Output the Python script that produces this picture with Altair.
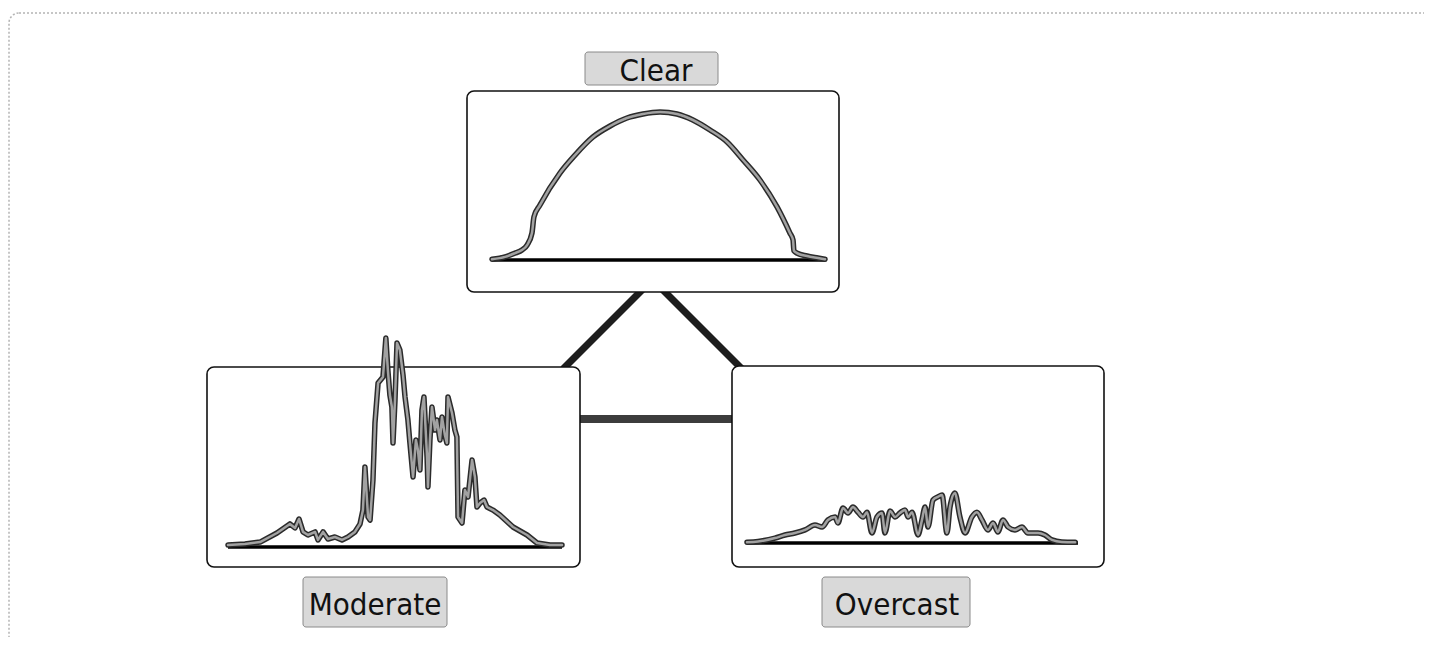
import altair as alt
import pandas as pd

# ------------------------------------------------------------------
# Data: solar irradiance (W/m²) over the day (hour) for three sky types
# ------------------------------------------------------------------
panel_names = ["Clear", "Moderate", "Overcast"]

clear_hours = [4.50, 5.09, 5.54, 5.85, 6.08, 6.30, 6.39, 6.66, 7.56, 8.24, 9.05, 9.82,
               10.58, 11.30, 12.07, 12.83, 13.55, 14.32, 15.09, 15.81, 16.57, 17.34,
               17.92, 18.06, 18.10, 18.24, 18.69, 19.18, 19.50]
clear_wm2 = [5, 20, 45, 65, 97, 175, 280, 357, 565, 682, 800, 871,
             923, 949, 962, 949, 910, 845, 767, 650, 520, 345,
             175, 130, 60, 45, 26, 13, 5]

moderate_hours = [4.50, 5.26, 5.94, 6.70, 7.28, 7.51, 7.69, 7.87, 8.09, 8.41, 8.54, 8.77,
                  8.99, 9.30, 9.62, 9.89, 10.20, 10.43, 10.56, 10.65, 10.79, 10.88,
                  11.01, 11.10, 11.24, 11.46, 11.59, 11.68, 11.77, 11.86, 11.91, 12.00,
                  12.09, 12.22, 12.36, 12.45, 12.58, 12.67, 12.81, 12.94, 13.03, 13.12,
                  13.21, 13.30, 13.44, 13.48, 13.57, 13.66, 13.80, 13.88, 14.02, 14.11,
                  14.24, 14.33, 14.38, 14.56, 14.69, 14.78, 14.83, 15.01, 15.14, 15.28,
                  15.46, 15.59, 15.68, 15.82, 16.00, 16.13, 16.40, 16.71, 17.30, 17.93,
                  18.38, 18.96, 19.50]
moderate_wm2 = [13, 20, 32, 91, 150, 124, 182, 98, 78, 98, 46, 98,
                52, 65, 46, 65, 98, 150, 240, 520, 195, 175,
                435, 806, 1066, 1105, 1358, 1150, 988, 910, 676, 955,
                1326, 1280, 1118, 975, 826, 676, 455, 696, 630, 500,
                890, 975, 585, 390, 696, 910, 760, 826, 696, 845,
                728, 676, 975, 871, 760, 715, 195, 156, 370, 325,
                565, 455, 260, 286, 305, 260, 240, 208, 130, 78,
                26, 13, 13]

overcast_hours = [4.50, 5.00, 5.77, 6.22, 6.67, 7.13, 7.58, 7.90, 8.17, 8.49, 8.62, 8.85,
                  9.08, 9.30, 9.53, 9.76, 9.94, 10.16, 10.39, 10.62, 10.75, 10.98,
                  11.21, 11.43, 11.66, 11.80, 11.98, 12.25, 12.43, 12.57, 12.70, 12.93,
                  13.15, 13.34, 13.56, 13.70, 13.92, 14.15, 14.38, 14.69, 14.92, 15.15,
                  15.42, 15.65, 15.87, 16.10, 16.33, 16.64, 16.96, 17.23, 17.69, 18.00,
                  18.32, 18.77, 19.37]
overcast_wm2 = [5, 10, 32, 52, 65, 85, 117, 104, 150, 169, 130, 228,
                195, 234, 200, 169, 200, 65, 169, 195, 65, 208,
                169, 195, 215, 169, 200, 52, 150, 234, 104, 280,
                300, 312, 65, 234, 325, 169, 65, 169, 200, 150,
                85, 130, 72, 150, 104, 85, 104, 65, 65, 52,
                20, 7, 5]

# ------------------------------------------------------------------
# Layout (chart pixel coordinates) and styles
# ------------------------------------------------------------------
W, H = 1416, 629
HOUR_DOMAIN = [4.5, 19.5]
VAL_DOMAIN = [0, 1300]
VAL_PX = 200  # pixel height spanned by VAL_DOMAIN
FONT = "DejaVu Sans Condensed, Liberation Sans Narrow, Liberation Sans, sans-serif"

layout = {
    "Clear":    dict(box=(459, 83, 831, 284), xr=(484, 817), base=252,
                     lbox=(577, 44, 710, 77), lxy=(648, 73), interp="monotone"),
    "Moderate": dict(box=(199, 359, 572, 559), xr=(220, 554), base=539,
                     lbox=(295, 569, 439, 619), lxy=(367, 607), interp="linear"),
    "Overcast": dict(box=(724, 358, 1096, 559), xr=(739, 1070), base=535,
                     lbox=(814, 569, 962, 619), lxy=(889, 607), interp="monotone"),
}
series = {
    "Clear": (clear_hours, clear_wm2),
    "Moderate": (moderate_hours, moderate_wm2),
    "Overcast": (overcast_hours, overcast_wm2),
}

one = pd.DataFrame({"_": [0]})


def rect(x, y, x2, y2, **kw):
    return alt.Chart(one).mark_rect(**kw).encode(
        x=alt.value(x), y=alt.value(y), x2=alt.value(x2), y2=alt.value(y2))


def rule(x, y, x2, y2, **kw):
    return alt.Chart(one).mark_rule(**kw).encode(
        x=alt.value(x), y=alt.value(y), x2=alt.value(x2), y2=alt.value(y2))


layers = []

# outer faint rounded frame
layers.append(rect(1, 5, 1460, 640, fillOpacity=0, stroke="#b4b4b4", strokeWidth=1.5,
                   strokeDash=[2, 2], cornerRadius=10))

# connectors of the triangle
layers.append(rule(636, 280, 555, 361, color="#1e1e1e", strokeWidth=7))
layers.append(rule(653, 280, 734, 361, color="#1e1e1e", strokeWidth=7))
layers.append(rule(568, 411, 728, 411, color="#3c3c3c", strokeWidth=8))

# panel boxes and labels
for name in panel_names:
    L = layout[name]
    bx, by, bx2, by2 = L["box"]
    layers.append(rect(bx, by, bx2, by2, fill="white", stroke="#111", strokeWidth=1.6,
                       cornerRadius=7))
    lx, ly, lx2, ly2 = L["lbox"]
    layers.append(rect(lx, ly, lx2, ly2, fill="#d9d9d9", stroke="#8a8a8a", strokeWidth=1,
                       cornerRadius=3))
    tx, ty = L["lxy"]
    layers.append(
        alt.Chart(pd.DataFrame({"label": [name]})).mark_text(
            font=FONT, fontSize=31, align="center", baseline="alphabetic", color="#111"
        ).encode(text="label:N", x=alt.value(tx), y=alt.value(ty))
    )

# data series drawn through per-panel scales
for name in panel_names:
    L = layout[name]
    hours, vals = series[name]
    df = pd.DataFrame({"hour": hours, "wm2": vals})
    base_df = pd.DataFrame({"hour": HOUR_DOMAIN, "wm2": [0, 0]})
    xs = alt.Scale(domain=HOUR_DOMAIN, range=list(L["xr"]), nice=False, zero=False)
    ys = alt.Scale(domain=VAL_DOMAIN, range=[L["base"], L["base"] - VAL_PX],
                   nice=False, zero=False)
    enc = dict(x=alt.X("hour:Q", scale=xs, axis=None),
               y=alt.Y("wm2:Q", scale=ys, axis=None))
    layers.append(alt.Chart(base_df).mark_line(color="black", strokeWidth=3.5,
                                                clip=False).encode(**enc))
    layers.append(alt.Chart(df).mark_line(color="#2b2b2b", strokeWidth=5.5, clip=False,
                                          interpolate=L["interp"], strokeJoin="round",
                                          strokeCap="round").encode(**enc))
    layers.append(alt.Chart(df).mark_line(color="#a2a2a2", strokeWidth=2.5, clip=False,
                                          interpolate=L["interp"], strokeJoin="round",
                                          strokeCap="round").encode(**enc))

chart = alt.layer(*layers).resolve_scale(
    x="independent", y="independent"
).properties(
    width=W, height=H, padding=0, autosize=alt.AutoSizeParams(type="none"),
    background="white"
).configure_view(strokeWidth=0)

chart.save("out.html", embed_options={"renderer": "svg", "actions": False})
